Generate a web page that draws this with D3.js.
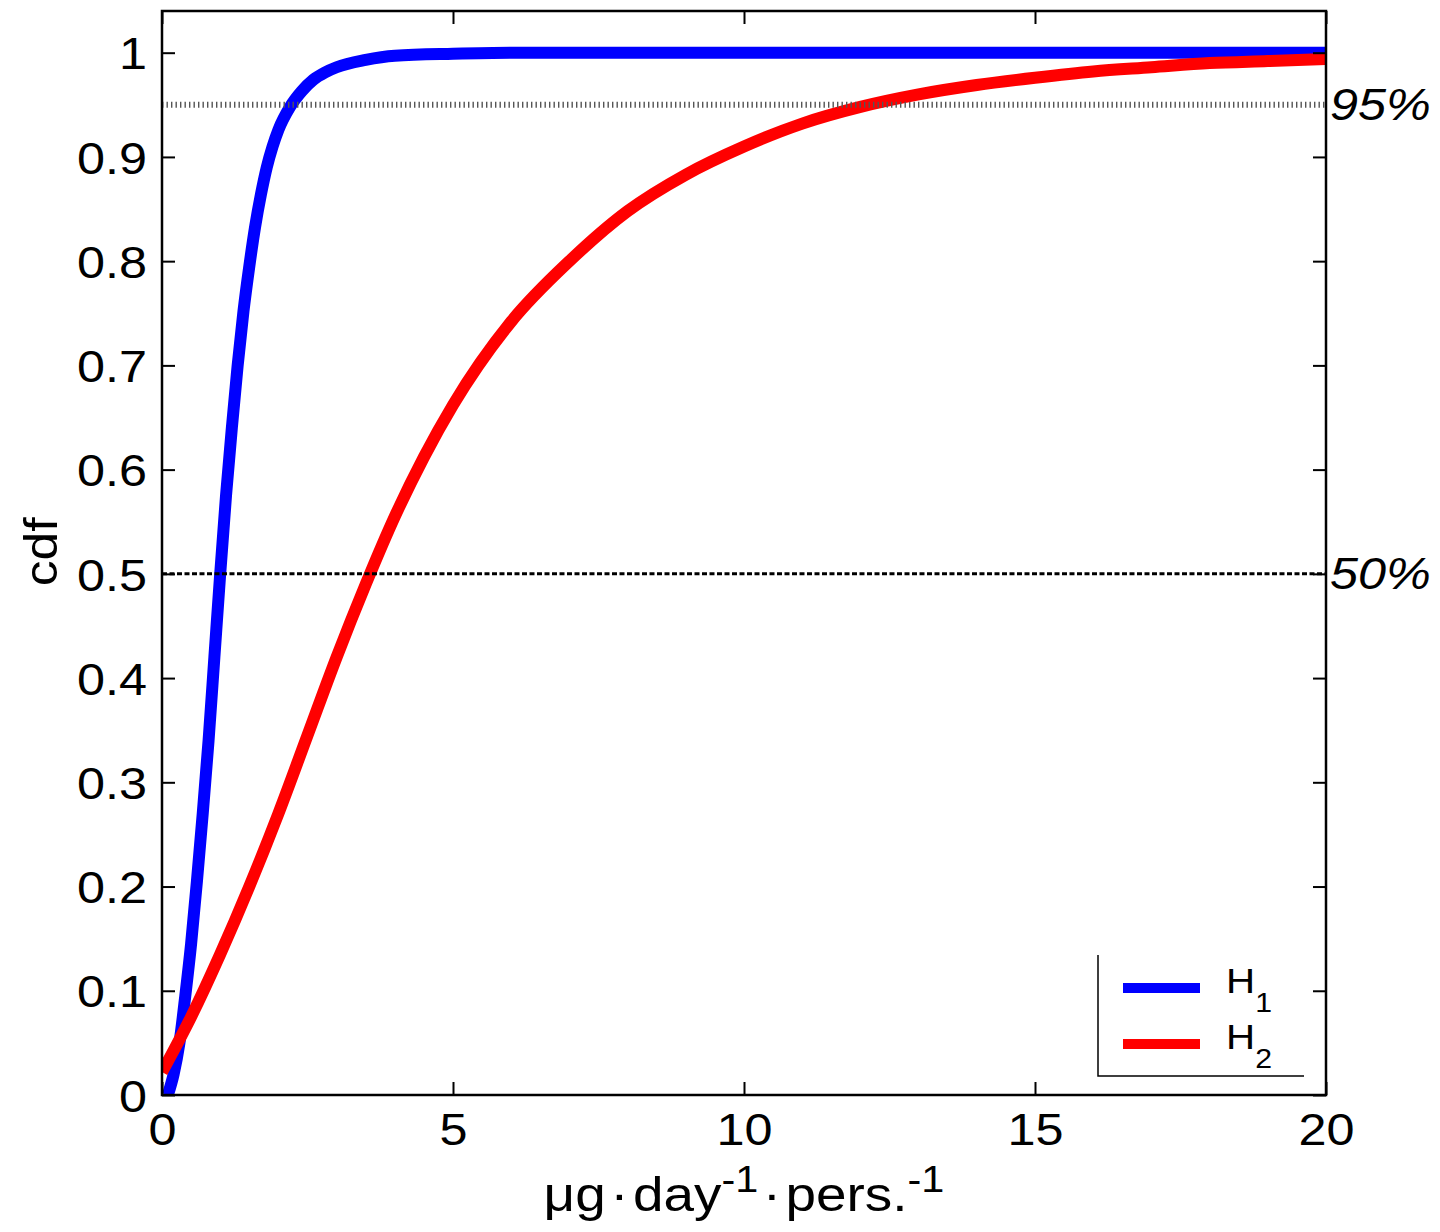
<!DOCTYPE html>
<html>
<head>
<meta charset="utf-8">
<script src="https://cdn.jsdelivr.net/npm/d3@7"></script>
<style>
  body { margin: 0; background: #fff; }
  svg { display: block; font-family: "Liberation Sans", Arial, sans-serif; }
</style>
</head>
<body>
<svg id="chart" width="1440" height="1232"></svg>
<script>
// values
const xTicks = [0, 5, 10, 15, 20];
const yTicks = [0, 0.1, 0.2, 0.3, 0.4, 0.5, 0.6, 0.7, 0.8, 0.9, 1];
const yTickLabels = ["0", "0.1", "0.2", "0.3", "0.4", "0.5", "0.6", "0.7", "0.8", "0.9", "1"];

const h1X   = [0.1, 0.2, 0.3, 0.4, 0.5, 0.6, 0.7, 0.8, 0.9, 1.0, 1.1, 1.2, 1.3, 1.4, 1.5, 1.6, 1.7, 1.8, 1.9, 2.0, 2.2, 2.4, 2.6, 2.8, 3.0, 3.5, 4.0, 5, 6, 20];
const h1Cdf = [0, 0.02, 0.05, 0.095, 0.145, 0.205, 0.27, 0.34, 0.42, 0.5, 0.575, 0.64, 0.70, 0.752, 0.795, 0.833, 0.864, 0.89, 0.91, 0.926, 0.948, 0.963, 0.974, 0.981, 0.986, 0.993, 0.997, 0.999, 1, 1];

const h2X   = [0, 0.5, 1, 1.5, 2, 2.5, 3, 3.5, 4, 4.5, 5, 6, 7, 8, 9, 10, 11, 12, 13, 14, 15, 16, 17, 18, 19, 20];
const h2Cdf = [0.022, 0.075, 0.135, 0.2, 0.27, 0.345, 0.42, 0.49, 0.555, 0.612, 0.662, 0.742, 0.80, 0.848, 0.883, 0.91, 0.932, 0.948, 0.96, 0.969, 0.976, 0.982, 0.986, 0.99, 0.992, 0.994];

const refLevels = [0.95, 0.5];
const refLabels = ["95%", "50%"];

const seriesNames = ["H", "H"];
const seriesSubs = ["1", "2"];
const seriesColors = ["#0000ff", "#ff0000"];

const xLabel = ["μg", "·", "day", "-1", "·", "pers.", "-1"];
const yLabel = "cdf";

const W = 1440, H = 1232;
const m = { left: 162, right: 114, top: 11, bottom: 137 };
const stretch = 1.12;   // the glyphs in the picture are a bit wider than Arial

const svg = d3.select("#chart");
svg.append("rect").attr("width", W).attr("height", H).attr("fill", "#fff");

const x = d3.scaleLinear().domain([0, 20]).range([m.left, W - m.right]);
const y = d3.scaleLinear().domain([0, 1.04]).range([H - m.bottom, m.top]);

svg.append("clipPath").attr("id", "plot")
  .append("rect")
  .attr("x", x(0)).attr("y", y(1.04))
  .attr("width", x(20) - x(0)).attr("height", y(0) - y(1.04));

// curves
const line = d3.line()
  .x(d => x(d[0]))
  .y(d => y(d[1]))
  .curve(d3.curveMonotoneX);

const series = [
  d3.zip(h1X, h1Cdf),
  d3.zip(h2X, h2Cdf)
];

const curves = svg.append("g").attr("clip-path", "url(#plot)");
series.forEach((s, i) => {
  curves.append("path")
    .attr("d", line(s))
    .attr("fill", "none")
    .attr("stroke", seriesColors[i])
    .attr("stroke-width", 12);
});

// reference lines
const refs = svg.append("g");
refs.append("line")
  .attr("x1", x(0)).attr("x2", x(20))
  .attr("y1", y(refLevels[0])).attr("y2", y(refLevels[0]))
  .attr("stroke", "#555")
  .attr("stroke-width", 6)
  .attr("stroke-dasharray", "1.4 3.1");
refs.append("line")
  .attr("x1", x(0)).attr("x2", x(20))
  .attr("y1", y(refLevels[1])).attr("y2", y(refLevels[1]))
  .attr("stroke", "#000")
  .attr("stroke-width", 3)
  .attr("stroke-dasharray", "5 2.5");

refLevels.forEach((v, i) => {
  svg.append("g")
    .attr("transform", `translate(${x(20) + 4},${y(v) + 15}) scale(${stretch},1)`)
    .append("text")
    .attr("font-size", 45)
    .attr("font-style", "italic")
    .text(refLabels[i]);
});

// axes, ticks pointing inwards on all four sides
const tick = 13;
const styleAxis = g => {
  g.select(".domain").remove();
  g.selectAll(".tick line").attr("stroke", "#000").attr("stroke-width", 2);
  g.selectAll(".tick text")
    .attr("font-size", 45)
    .attr("fill", "#000")
    .attr("font-family", "Liberation Sans, Arial, sans-serif");
};

svg.append("g")
  .attr("transform", `translate(0,${y(0)})`)
  .call(d3.axisBottom(x).tickValues(xTicks).tickSize(-tick).tickSizeOuter(0).tickPadding(0).tickFormat(d3.format("d")))
  .call(styleAxis)
  .call(g => g.selectAll(".tick text")
    .attr("y", 0).attr("dy", 0)
    .attr("transform", `translate(0,50) scale(${stretch},1)`));

svg.append("g")
  .attr("transform", `translate(${x(0)},0)`)
  .call(d3.axisLeft(y).tickValues(yTicks).tickSize(-tick).tickSizeOuter(0).tickPadding(15)
    .tickFormat((d, i) => yTickLabels[i]))
  .call(styleAxis)
  .call(g => g.selectAll(".tick text")
    .attr("x", -15 / stretch)
    .attr("dy", "0.36em")
    .attr("transform", `scale(${stretch},1)`));

svg.append("g")
  .attr("transform", `translate(0,${y(1.04)})`)
  .call(d3.axisTop(x).tickValues(xTicks).tickSize(-tick).tickSizeOuter(0).tickFormat(""))
  .call(styleAxis);

svg.append("g")
  .attr("transform", `translate(${x(20)},0)`)
  .call(d3.axisRight(y).tickValues(yTicks).tickSize(-tick).tickSizeOuter(0).tickFormat(""))
  .call(styleAxis);

// frame
svg.append("rect")
  .attr("x", x(0)).attr("y", y(1.04))
  .attr("width", x(20) - x(0)).attr("height", y(0) - y(1.04))
  .attr("fill", "none")
  .attr("stroke", "#000")
  .attr("stroke-width", 2.5);

// axis titles
const xt = svg.append("g")
  .attr("transform", `translate(${(x(0) + x(20)) / 2},1211) scale(${stretch},1)`)
  .append("text")
  .attr("text-anchor", "middle")
  .attr("font-size", 49);
let raised = false;
xLabel.forEach(s => {
  const sup = s === "-1";
  const dot = s === "·";
  const ts = xt.append("tspan")
    .attr("font-size", sup ? 37 : 49)
    .text(s);
  if (sup) { ts.attr("dy", -19); raised = true; }
  else if (raised) { ts.attr("dy", 19); raised = false; }
  if (dot) ts.attr("dx", 4);
  if (s === "day" || s === "pers.") ts.attr("dx", 4);
});

svg.append("g")
  .attr("transform", `translate(57,${y(0.5) - 22}) rotate(-90) scale(${stretch},1)`)
  .append("text")
  .attr("text-anchor", "middle")
  .attr("font-size", 46)
  .text(yLabel);

// legend (only left and bottom edges show in the picture)
const lg = svg.append("g");
lg.append("path")
  .attr("d", "M1098,955 V1076 H1304")
  .attr("fill", "none")
  .attr("stroke", "#000")
  .attr("stroke-width", 1.5);

seriesNames.forEach((name, i) => {
  const ly = 988 + i * 56;
  lg.append("line")
    .attr("x1", 1123).attr("x2", 1200)
    .attr("y1", ly).attr("y2", ly)
    .attr("stroke", seriesColors[i])
    .attr("stroke-width", 10);
  const t = lg.append("g")
    .attr("transform", `translate(1226,${ly + 5}) scale(${stretch},1)`)
    .append("text")
    .attr("font-size", 36);
  t.append("tspan").text(name);
  t.append("tspan").attr("font-size", 27).attr("dy", 19).text(seriesSubs[i]);
});
</script>
</body>
</html>
